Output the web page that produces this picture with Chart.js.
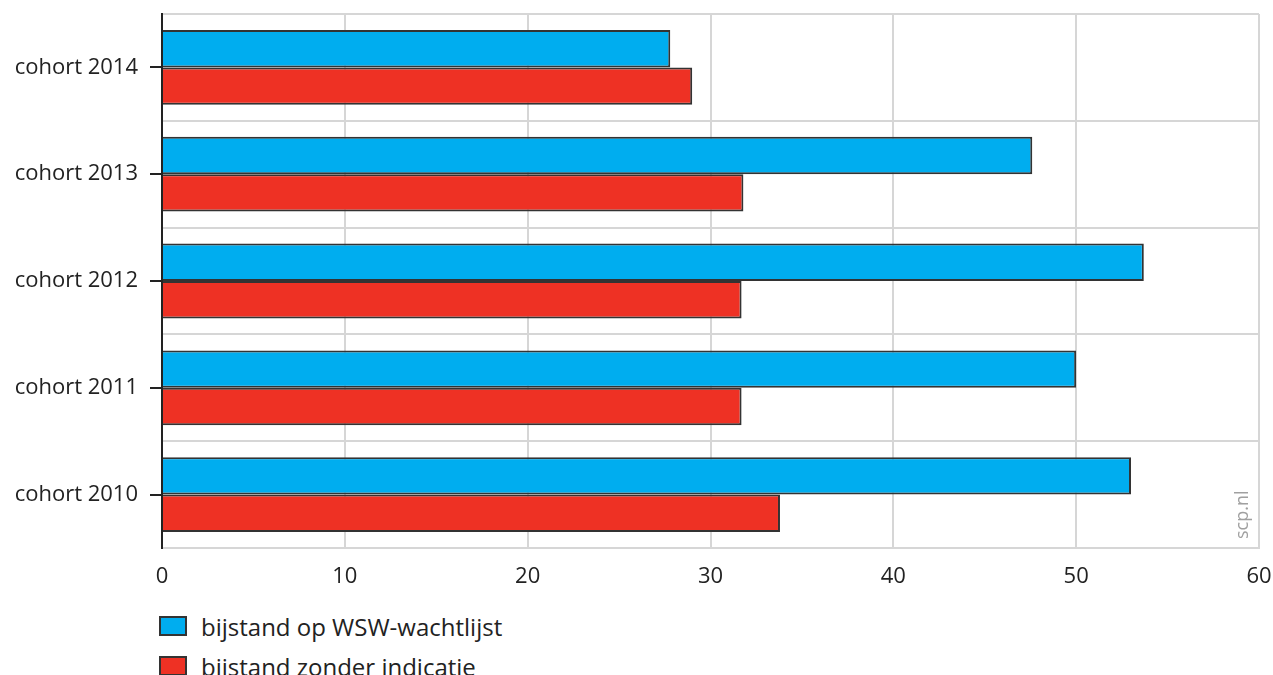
<!DOCTYPE html>
<html>
<head>
<meta charset="utf-8">
<script src="https://cdn.jsdelivr.net/npm/chart.js@4"></script>
<style>
  body { margin: 0; background: #fff; font-family: "Open Sans", sans-serif; }
  #wrap { position: relative; width: 1273px; height: 675px; overflow: hidden; }
  #legend { position: absolute; left: 159px; top: 606px; }
  .item { display: flex; align-items: center; height: 40px; font-size: 24px; color: #222; }
  .box { width: 24px; height: 16px; border: 2px solid #333; margin-right: 14px; }
</style>
</head>
<body>
<div id="wrap">
  <canvas id="myChart" width="1273" height="602"></canvas>
  <div id="legend"></div>
</div>
<script>
var cohorts = ['cohort 2014', 'cohort 2013', 'cohort 2012', 'cohort 2011', 'cohort 2010'];
var wachtlijst = [27.8, 47.6, 53.7, 50.0, 53.0];
var zonderIndicatie = [29.0, 31.8, 31.7, 31.7, 33.8];
var xTicks = [0, 10, 20, 30, 40, 50, 60];

var seriesNames = ['bijstand op WSW-wachtlijst', 'bijstand zonder indicatie'];
var seriesColors = ['#00adef', '#ee3124'];

var gridColor = '#d6d6d6';
var textColor = '#222';

const watermark = {
    id: 'watermark',
    afterDraw(chart) {
        const ctx = chart.ctx;
        ctx.save();
        ctx.translate(1248, 539);
        ctx.rotate(-Math.PI / 2);
        ctx.font = '18px "Open Sans"';
        ctx.fillStyle = '#a0a0a0';
        ctx.textAlign = 'left';
        ctx.textBaseline = 'alphabetic';
        ctx.fillText('scp.nl', 0, 0);
        ctx.restore();
    }
};

const ctx = document.getElementById('myChart').getContext('2d');
const myChart = new Chart(ctx, {
    type: 'bar',
    data: {
        labels: cohorts,
        datasets: [{
            label: seriesNames[0],
            data: wachtlijst,
            backgroundColor: seriesColors[0]
        }, {
            label: seriesNames[1],
            data: zonderIndicatie,
            backgroundColor: seriesColors[1]
        }]
    },
    options: {
        indexAxis: 'y',
        responsive: false,
        animation: false,
        layout: { padding: { top: 14, right: 14, bottom: 0, left: 0 } },
        datasets: {
            bar: {
                borderColor: '#333',
                borderWidth: 2,
                barPercentage: 1.0,
                categoryPercentage: 0.70
            }
        },
        plugins: {
            legend: { display: false },
            tooltip: { enabled: false }
        },
        scales: {
            x: {
                min: 0,
                max: 60,
                afterBuildTicks: function(axis) {
                    axis.ticks = xTicks.map(v => ({ value: v }));
                },
                grid: { color: gridColor, lineWidth: 2, drawTicks: false },
                border: { color: gridColor, width: 2 },
                ticks: {
                    color: textColor,
                    padding: 16,
                    font: { family: 'Open Sans', size: 22 }
                },
                afterFit: function(axis) {
                    axis.height = 54;
                    axis.paddingLeft = 0;
                    axis.paddingRight = 0;
                }
            },
            y: {
                type: 'category',
                offset: true,
                grid: {
                    offset: false,
                    drawOnChartArea: false,
                    color: textColor,
                    lineWidth: 2,
                    tickLength: 12
                },
                border: { color: textColor, width: 2 },
                ticks: {
                    color: textColor,
                    padding: 12,
                    font: { family: 'Open Sans', size: 22 }
                },
                afterFit: function(axis) {
                    axis.width = 162;
                    axis.paddingTop = 0;
                    axis.paddingBottom = 0;
                }
            },
            y2: {
                type: 'category',
                position: 'left',
                offset: true,
                grid: { offset: true, color: gridColor, lineWidth: 2, drawTicks: false },
                border: { display: false },
                ticks: { display: false },
                afterFit: function(axis) { axis.width = 0; }
            }
        }
    },
    plugins: [watermark]
});

var legend = document.getElementById('legend');
myChart.data.datasets.forEach((ds) => {
    var item = document.createElement('div');
    item.className = 'item';
    var box = document.createElement('span');
    box.className = 'box';
    box.style.background = ds.backgroundColor;
    var label = document.createElement('span');
    label.textContent = ds.label;
    item.appendChild(box);
    item.appendChild(label);
    legend.appendChild(item);
});
</script>
</body>
</html>
